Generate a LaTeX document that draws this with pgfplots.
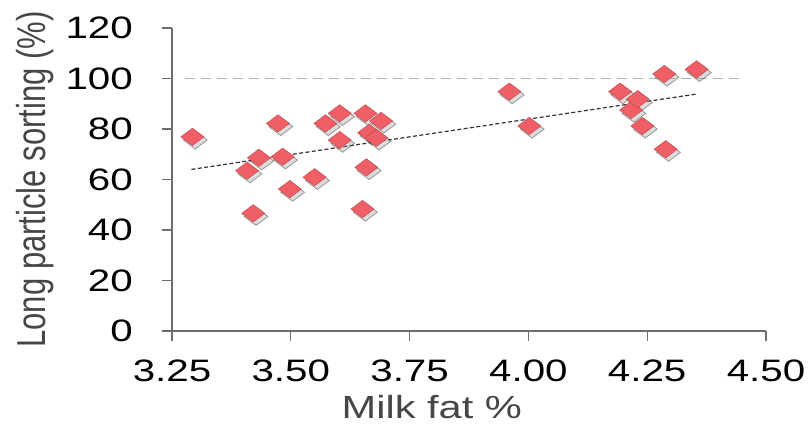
\documentclass[border=0pt]{standalone}
\usepackage{fontspec}
\setmainfont{Liberation Sans}
\usepackage{pgfplots}
\pgfplotsset{compat=1.18}
\usepackage{pgfplotstable}
\definecolor{pt}{RGB}{240,95,102}
\definecolor{axc}{RGB}{110,110,110}
\definecolor{labc}{RGB}{70,70,70}
\pgfplotstableread{
x y
3.293 76.9
3.408 63.5
3.421 46.6
3.433 68.6
3.473 82.2
3.483 69.0
3.498 56.2
3.550 60.9
3.573 82.2
3.603 86.2
3.603 75.6
3.651 48.3
3.657 86.2
3.659 64.8
3.665 78.5
3.680 76.5
3.690 83.2
3.960 94.8
4.002 81.2
4.193 94.8
4.216 87.5
4.230 91.8
4.240 81.2
4.286 101.8
4.289 72.0
4.354 103.6
}\pts
\begin{document}
\begin{tikzpicture}
\useasboundingbox (0,0) rectangle (405.5pt,213.5pt);
\begin{axis}[
  at={(86pt,48pt)}, anchor=south west,
  scale only axis, width=297pt, height=151.5pt,
  xmin=3.25, xmax=4.5, ymin=0, ymax=120,
  axis x line=bottom, axis y line=left,
  axis line style={-, draw=axc, line width=0.7pt},
  tick style={draw=axc, line width=0.6pt},
  tick align=outside, major tick length=5pt,
  xtick={3.25,3.5,3.75,4,4.25,4.5},
  ytick={0,20,40,60,80,100,120},
  minor tick num=0,
  /pgf/number format/assume math mode=true,
  xticklabel style={/pgf/number format/.cd, fixed, fixed zerofill, precision=2, /tikz/.cd, yshift=-6pt, xscale=1.3, font=\fontsize{15.5}{18}\selectfont, text=black},
  yticklabel style={xshift=-10pt, xscale=1.3, font=\fontsize{15.5}{18}\selectfont, text=black},
  xlabel={Milk fat \%},
  ylabel={Long particle sorting (\%)},
  xlabel style={yshift=-2pt, xscale=1.3, font=\fontsize{16}{19}\selectfont, text=labc, at={(ticklabel cs:0.4375)}, inner sep=1pt},
  ylabel style={yshift=-3pt, yscale=1.3, font=\fontsize{15.5}{18}\selectfont, text=labc},
  clip=false,
]
\addplot[draw=black!30, dash pattern=on 5pt off 3pt, line width=0.5pt] coordinates {(3.277,100) (4.454,100)};
\addplot[only marks, mark=diamond*, mark size=6pt, mark options={xshift=1.4pt, yshift=-1.6pt, rotate=90, fill=black!40, draw=none, opacity=0.35}] table[x=x,y=y] {\pts};
\addplot[only marks, mark=diamond*, mark size=5.8pt, mark options={rotate=90, fill=pt, draw=pt!75!black, line width=0.2pt}] table[x=x,y=y] {\pts};
\addplot[draw=black!80, dash pattern=on 2pt off 1.2pt, line width=0.6pt] coordinates {(3.291,64.0) (4.356,93.9)};
\end{axis}
\end{tikzpicture}
\end{document}
